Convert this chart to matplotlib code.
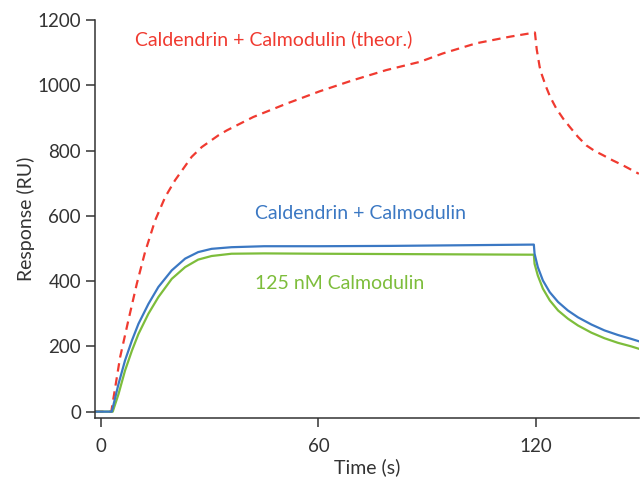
import matplotlib.pyplot as plt

plt.rcParams['font.family'] = ['Lato', 'DejaVu Sans']

# sensorgram values (time in s, response in RU)
t_blue = [-1.7, 2.95, 4.8, 6.6, 8.5, 10.3, 13.05, 15.8, 19.5, 23.2, 26.8, 30.5, 36,
          45, 60, 80, 100, 119.5,
          119.7, 120.6, 122.0, 123.9, 126.2, 128.9, 131.7, 135.4, 139.0, 142.7,
          146.4, 148.7]
r_blue = [0, 0, 85, 157, 218, 269, 330, 382, 433, 469, 489, 499, 504,
          507, 507, 508, 510, 512,
          484, 443, 402, 366, 336, 310, 289, 267, 249, 235,
          223, 215]

t_green = [-1.7, 3.2, 4.8, 6.6, 8.5, 10.3, 13.05, 15.8, 19.5, 23.2, 26.8, 30.5, 36,
           45, 60, 80, 100, 119.5,
           119.7, 120.6, 122.0, 123.9, 126.2, 128.9, 131.7, 135.4, 139.0, 142.7,
           146.4, 148.7]
r_green = [0, 0, 54, 126, 187, 238, 300, 351, 407, 443, 466, 477, 484,
           485, 484, 483, 482, 481,
           453, 417, 377, 341, 310, 285, 264, 242, 225, 211,
           200, 192]

t_red = [-1.7, 2.8, 5.24, 7.5, 9.85, 12.1, 14.9, 17.7, 20.4, 22.7, 25.0, 27.8, 32.4,
         34.7, 42, 51.2, 60.4, 69.6, 78.8, 88, 94.4, 103.6, 112.8, 119.8,
         120.3, 121.1, 121.6, 122.9, 124.0, 125.7, 127.6, 129.4, 131.7, 134.0,
         136.3, 138.6, 141.3, 144.1, 148.5]
r_red = [0, 0, 167, 279, 392, 488, 586, 658, 709, 745, 781, 811, 847,
         862, 903, 944, 982, 1016, 1047, 1072, 1098, 1129, 1149, 1162,
         1110, 1057, 1036, 995, 965, 929, 898, 873, 842, 816,
         799, 786, 770, 755, 729]

x_ticks = [0, 60, 120]
y_ticks = [0, 200, 400, 600, 800, 1000, 1200]

RED = '#f03a30'
BLUE = '#3b78c3'
GREEN = '#7dbd3b'
DARK = '#333333'

fig = plt.figure(figsize=(6.44, 4.79), dpi=100)
ax = fig.add_axes([0.1475, 0.127, 0.8445, 0.831])

ax.plot(t_red, r_red, color=RED, lw=1.6, dashes=(3.8, 2.6))
ax.plot(t_green, r_green, color=GREEN, lw=1.6)
ax.plot(t_blue, r_blue, color=BLUE, lw=1.6)

ax.set_xlim(-1.7, 148.5)
ax.set_ylim(-20, 1200)
ax.set_xticks(x_ticks)
ax.set_yticks(y_ticks)

for side in ['top', 'right']:
    ax.spines[side].set_visible(False)
for side in ['left', 'bottom']:
    ax.spines[side].set_color(DARK)
    ax.spines[side].set_linewidth(1.1)

ax.tick_params(axis='both', colors=DARK, labelcolor=DARK, labelsize=13.5,
               length=6.5, width=1.1, direction='out')
ax.tick_params(axis='y', pad=3.5)
ax.tick_params(axis='x', pad=8)

ax.set_xlabel('Time (s)', fontsize=14, color=DARK, labelpad=2)
ax.set_ylabel('Response (RU)', fontsize=14, color=DARK, labelpad=2)

ax.text(9.4, 1140, 'Caldendrin + Calmodulin (theor.)', color=RED, fontsize=14,
        va='center', ha='left')
ax.text(42.5, 608, 'Caldendrin + Calmodulin', color=BLUE, fontsize=14,
        va='center', ha='left')
ax.text(42.5, 393, '125 nM Calmodulin', color=GREEN, fontsize=14,
        va='center', ha='left')

fig.savefig('out.png', dpi=100)
